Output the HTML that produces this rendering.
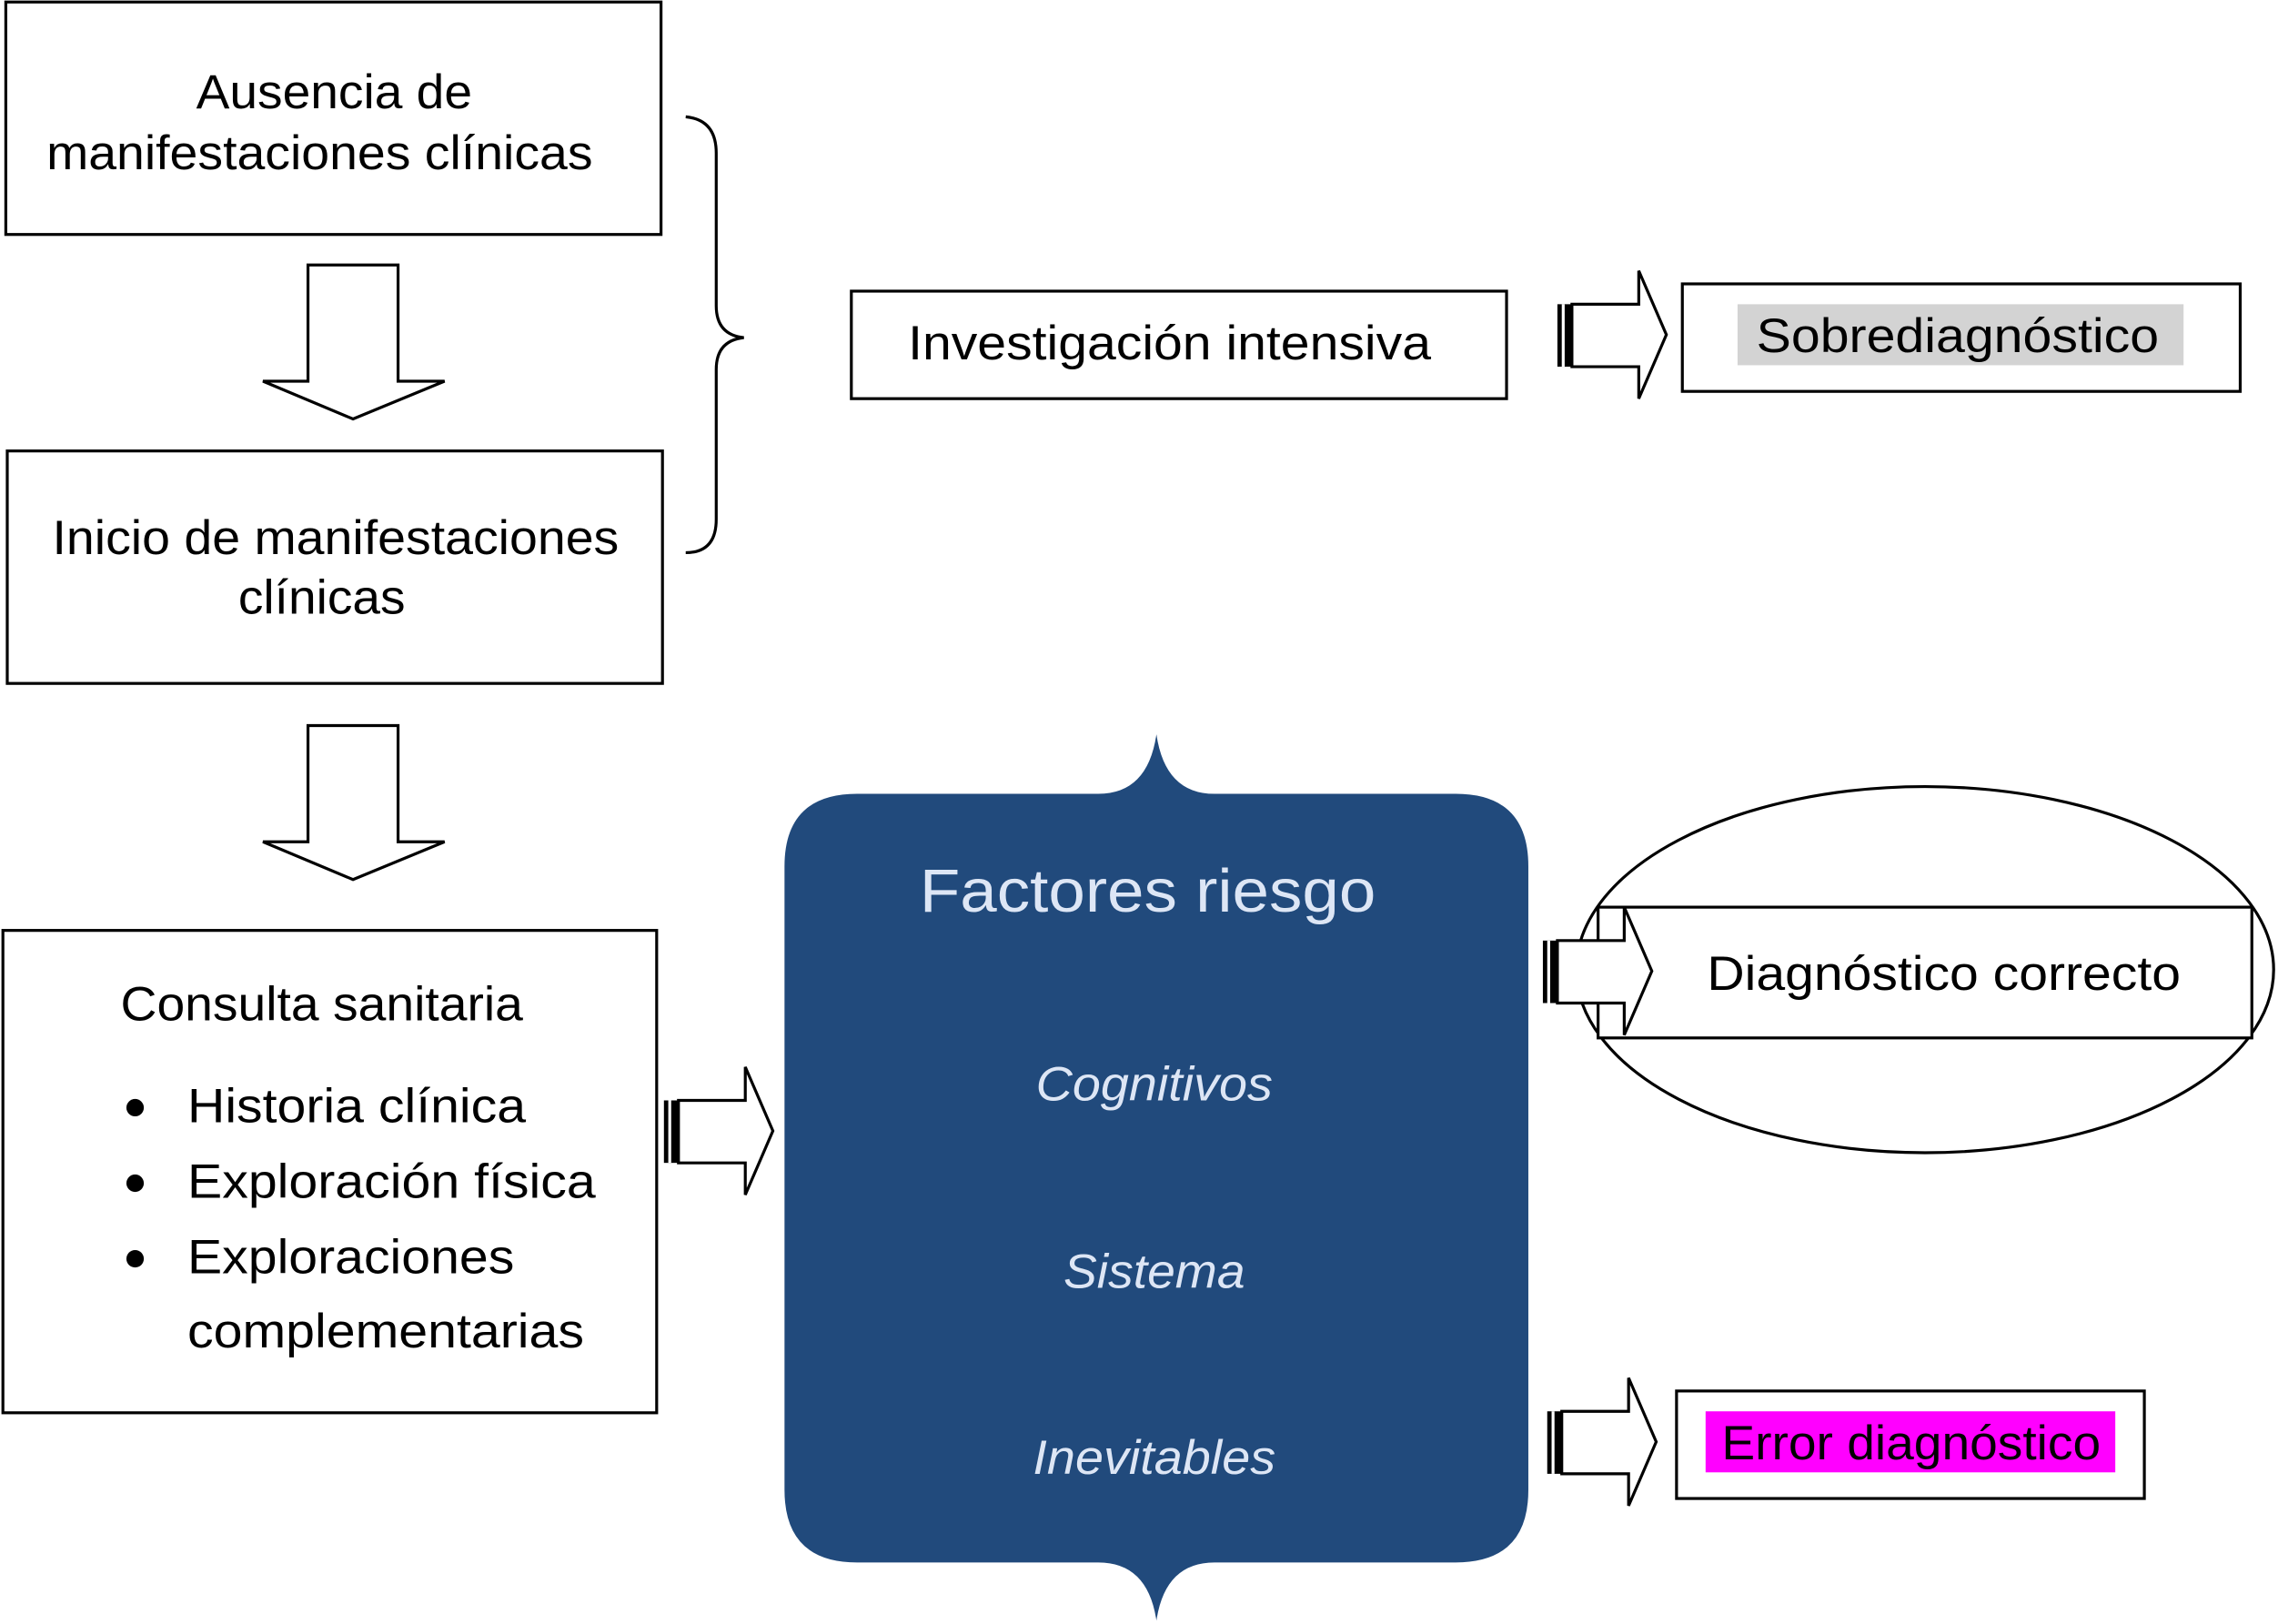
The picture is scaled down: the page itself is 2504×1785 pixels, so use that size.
<!DOCTYPE html>
<html><head><meta charset="utf-8"><style>
html,body{margin:0;padding:0;background:#fff;}
svg{display:block;}
text{font-family:"Liberation Sans",sans-serif;fill:#000;}
</style></head><body>
<svg width="2504" height="1785" viewBox="0 0 1568 1117" xmlns="http://www.w3.org/2000/svg">
<defs>
<g id="rarrow">
<rect x="0" y="23" width="10" height="43" fill="#000"/>
<rect x="3" y="23" width="2" height="43" fill="#fff"/>
<path d="M10,23 H56 V0 L75,44 L56,88 V66 H10 Z" fill="#fff" stroke="#000" stroke-width="2"/>
</g>
<g id="darrow">
<path d="M31,0 H93 V80 H125 L62,106 L0,80 H31 Z" fill="#fff" stroke="#000" stroke-width="2"/>
</g>
</defs>
<rect x="4" y="1" width="451" height="160" fill="#fff" stroke="#000" stroke-width="2"/>
<text x="135" y="74" font-size="33" textLength="190" lengthAdjust="spacingAndGlyphs">Ausencia de</text>
<text x="32" y="116" font-size="33" textLength="376" lengthAdjust="spacingAndGlyphs">manifestaciones clínicas</text>
<use href="#darrow" x="181" y="182"/>
<rect x="5" y="310" width="451" height="160" fill="#fff" stroke="#000" stroke-width="2"/>
<text x="36" y="381" font-size="33" textLength="390" lengthAdjust="spacingAndGlyphs">Inicio de manifestaciones</text>
<text x="164" y="422" font-size="33" textLength="115" lengthAdjust="spacingAndGlyphs">clínicas</text>
<path d="M472,80 Q493,82 493,105 V210 Q493,230 512,232 Q493,234 493,254 V357 Q493,380 472,380" fill="none" stroke="#000" stroke-width="2"/>
<rect x="586" y="200" width="451" height="74" fill="#fff" stroke="#000" stroke-width="2"/>
<text x="625" y="247" font-size="33" textLength="360" lengthAdjust="spacingAndGlyphs">Investigación intensiva</text>
<use href="#rarrow" x="1072" y="186"/>
<rect x="1158" y="195" width="384" height="74" fill="#fff" stroke="#000" stroke-width="2"/>
<rect x="1196" y="209" width="307" height="42" fill="#d3d3d3"/>
<text x="1209" y="242" font-size="33" textLength="277" lengthAdjust="spacingAndGlyphs">Sobrediagnóstico</text>
<use href="#darrow" x="181" y="499"/>
<rect x="2" y="640" width="450" height="332" fill="#fff" stroke="#000" stroke-width="2"/>
<text x="83" y="702" font-size="33" textLength="277" lengthAdjust="spacingAndGlyphs">Consulta sanitaria</text>
<circle cx="93" cy="762" r="6"/><text x="129" y="772" font-size="33" textLength="233" lengthAdjust="spacingAndGlyphs">Historia clínica</text>
<circle cx="93" cy="814" r="6"/><text x="129" y="824" font-size="33" textLength="281" lengthAdjust="spacingAndGlyphs">Exploración física</text>
<circle cx="93" cy="866" r="6"/><text x="129" y="876" font-size="33" textLength="225" lengthAdjust="spacingAndGlyphs">Exploraciones</text>
<text x="129" y="927" font-size="33" textLength="273" lengthAdjust="spacingAndGlyphs">complementarias</text>
<use href="#rarrow" x="457" y="734"/>
<path d="M590,546 H756 Q790,546 796,505 Q802,546 836,546 H1002 Q1052,546 1052,596 V1025 Q1052,1075 1002,1075 H836 Q802,1075 796,1115 Q790,1075 756,1075 H590 Q540,1075 540,1025 V596 Q540,546 590,546 Z" fill="#214a7c"/>
<text x="633" y="627" font-size="42" textLength="314" lengthAdjust="spacingAndGlyphs" style="fill:#dde6f5">Factores riesgo</text>
<text x="713" y="757" font-size="33" font-style="italic" textLength="163" lengthAdjust="spacingAndGlyphs" style="fill:#dde6f5">Cognitivos</text>
<text x="732" y="886" font-size="33" font-style="italic" textLength="125" lengthAdjust="spacingAndGlyphs" style="fill:#dde6f5">Sistema</text>
<text x="711" y="1014" font-size="33" font-style="italic" textLength="167" lengthAdjust="spacingAndGlyphs" style="fill:#dde6f5">Inevitables</text>
<ellipse cx="1325" cy="667" rx="240" ry="126" fill="#fff" stroke="#000" stroke-width="2"/>
<rect x="1100" y="624" width="450" height="90" fill="#fff" stroke="#000" stroke-width="2"/>
<use href="#rarrow" x="1062" y="624"/>
<text x="1175" y="681" font-size="33" textLength="326" lengthAdjust="spacingAndGlyphs">Diagnóstico correcto</text>
<use href="#rarrow" x="1065" y="948"/>
<rect x="1154" y="957" width="322" height="74" fill="#fff" stroke="#000" stroke-width="2"/>
<rect x="1174" y="971" width="282" height="42" fill="#ff00ff"/>
<text x="1185" y="1004" font-size="33" textLength="261" lengthAdjust="spacingAndGlyphs">Error diagnóstico</text>
</svg>
</body></html>
